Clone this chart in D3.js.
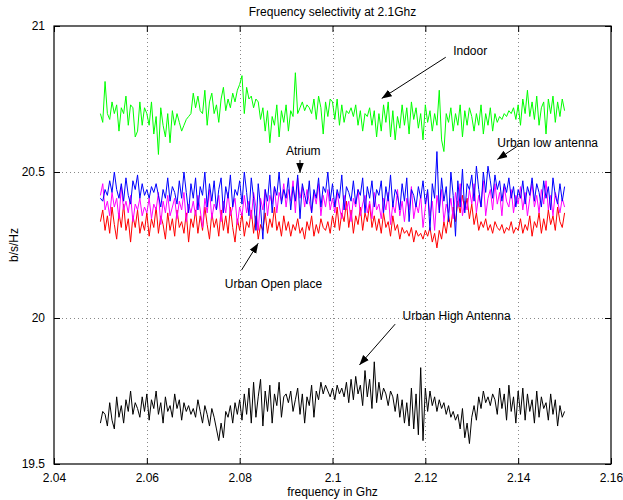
<!DOCTYPE html>
<html>
<head>
<meta charset="utf-8">
<script src="https://cdn.jsdelivr.net/npm/d3@7"></script>
<style>
  body { margin: 0; background: #fff; }
  text { font-family: "Liberation Sans", Arial, sans-serif; fill: #000; }
</style>
</head>
<body>
<div class="chart"></div>
<script>
// Frequency selectivity at 2.1Ghz - five measured environments

// frequency grid (Ghz), 2.05 .. 2.15
var freqs = d3.range(0, 201).map(i => 2.05 + i * 0.0005);

var indoor = [
  20.70, 20.67, 20.81, 20.70, 20.68, 20.74, 20.70, 20.73, 20.64, 20.72, 20.70, 20.76, 20.66, 20.73, 20.72, 20.62, 20.64, 20.74, 20.66, 20.72,
  20.70, 20.66, 20.74, 20.63, 20.69, 20.56, 20.72, 20.66, 20.62, 20.70, 20.60, 20.71, 20.66, 20.70, 20.67, 20.64, 20.66, 20.68, 20.69, 20.70,
  20.77, 20.72, 20.76, 20.71, 20.70, 20.78, 20.66, 20.74, 20.77, 20.70, 20.73, 20.67, 20.75, 20.79, 20.71, 20.75, 20.72, 20.77, 20.74, 20.78,
  20.80, 20.83, 20.70, 20.79, 20.75, 20.76, 20.72, 20.75, 20.74, 20.68, 20.72, 20.64, 20.71, 20.60, 20.69, 20.66, 20.73, 20.62, 20.71, 20.67,
  20.73, 20.64, 20.71, 20.69, 20.84, 20.70, 20.72, 20.74, 20.71, 20.73, 20.72, 20.70, 20.75, 20.68, 20.76, 20.72, 20.63, 20.74, 20.69, 20.75,
  20.74, 20.68, 20.75, 20.66, 20.73, 20.67, 20.71, 20.70, 20.72, 20.69, 20.73, 20.66, 20.71, 20.64, 20.70, 20.69, 20.72, 20.66, 20.71, 20.62,
  20.70, 20.64, 20.73, 20.67, 20.74, 20.62, 20.71, 20.61, 20.69, 20.65, 20.73, 20.66, 20.72, 20.63, 20.74, 20.68, 20.72, 20.65, 20.70, 20.61,
  20.73, 20.67, 20.71, 20.64, 20.70, 20.66, 20.78, 20.61, 20.57, 20.70, 20.67, 20.72, 20.64, 20.70, 20.66, 20.73, 20.62, 20.71, 20.66, 20.72,
  20.69, 20.64, 20.70, 20.66, 20.73, 20.63, 20.70, 20.66, 20.72, 20.64, 20.70, 20.67, 20.69, 20.68, 20.70, 20.69, 20.71, 20.70, 20.72, 20.68,
  20.73, 20.66, 20.75, 20.70, 20.78, 20.69, 20.74, 20.68, 20.76, 20.66, 20.72, 20.74, 20.63, 20.75, 20.70, 20.76, 20.67, 20.74, 20.69, 20.75,
  20.71
];

var urbanOpen = [
  20.33, 20.37, 20.30, 20.35, 20.29, 20.38, 20.32, 20.27, 20.36, 20.31, 20.39, 20.30, 20.34, 20.26, 20.35, 20.31, 20.37, 20.29, 20.33, 20.30,
  20.36, 20.28, 20.34, 20.31, 20.38, 20.29, 20.35, 20.32, 20.27, 20.36, 20.30, 20.34, 20.28, 20.37, 20.31, 20.33, 20.29, 20.36, 20.26, 20.34,
  20.31, 20.37, 20.29, 20.35, 20.30, 20.38, 20.32, 20.27, 20.36, 20.31, 20.34, 20.28, 20.37, 20.30, 20.35, 20.29, 20.38, 20.31, 20.26, 20.34,
  20.30, 20.36, 20.28, 20.33, 20.31, 20.37, 20.29, 20.35, 20.27, 20.32, 20.30, 20.36, 20.29, 20.34, 20.31, 20.38, 20.30, 20.33, 20.28, 20.35,
  20.30, 20.33, 20.28, 20.32, 20.30, 20.34, 20.29, 20.31, 20.27, 20.33, 20.30, 20.35, 20.28, 20.32, 20.29, 20.34, 20.31, 20.30, 20.33, 20.29,
  20.35, 20.31, 20.38, 20.30, 20.36, 20.33, 20.40, 20.31, 20.37, 20.29, 20.35, 20.32, 20.38, 20.30, 20.36, 20.33, 20.39, 20.31, 20.35, 20.30,
  20.34, 20.29, 20.36, 20.31, 20.33, 20.28, 20.35, 20.30, 20.32, 20.27, 20.31, 20.29, 20.30, 20.28, 20.31, 20.26, 20.30, 20.28, 20.29, 20.27,
  20.30, 20.28, 20.31, 20.26, 20.29, 20.24, 20.30, 20.27, 20.33, 20.29, 20.35, 20.31, 20.38, 20.33, 20.40, 20.36, 20.42, 20.37, 20.41, 20.34,
  20.39, 20.32, 20.36, 20.30, 20.33, 20.31, 20.34, 20.30, 20.32, 20.29, 20.33, 20.31, 20.30, 20.32, 20.29, 20.31, 20.30, 20.33, 20.29, 20.31,
  20.30, 20.34, 20.29, 20.32, 20.30, 20.35, 20.28, 20.33, 20.31, 20.36, 20.29, 20.34, 20.30, 20.37, 20.32, 20.35, 20.30, 20.38, 20.33, 20.31,
  20.36
];

var atrium = [
  20.42, 20.46, 20.37, 20.40, 20.35, 20.43, 20.38, 20.41, 20.34, 20.45, 20.37, 20.40, 20.36, 20.42, 20.33, 20.39, 20.37, 20.41, 20.35, 20.38,
  20.36, 20.41, 20.34, 20.39, 20.37, 20.43, 20.32, 20.40, 20.36, 20.42, 20.35, 20.38, 20.41, 20.34, 20.40, 20.37, 20.43, 20.33, 20.39, 20.36,
  20.40, 20.35, 20.42, 20.37, 20.31, 20.41, 20.36, 20.44, 20.34, 20.39, 20.37, 20.42, 20.33, 20.40, 20.36, 20.43, 20.35, 20.38, 20.41, 20.32,
  20.38, 20.35, 20.42, 20.36, 20.40, 20.34, 20.43, 20.38, 20.30, 20.41, 20.37, 20.44, 20.35, 20.42, 20.39, 20.45, 20.36, 20.43, 20.40, 20.46,
  20.38, 20.44, 20.40, 20.47, 20.36, 20.48, 20.41, 20.45, 20.38, 20.44, 20.40, 20.36, 20.43, 20.39, 20.46, 20.35, 20.42, 20.38, 20.44, 20.37,
  20.41, 20.36, 20.43, 20.38, 20.34, 20.42, 20.37, 20.40, 20.33, 20.41, 20.38, 20.44, 20.35, 20.39, 20.42, 20.36, 20.40, 20.34, 20.43, 20.37,
  20.39, 20.34, 20.41, 20.37, 20.43, 20.32, 20.39, 20.36, 20.44, 20.35, 20.40, 20.33, 20.41, 20.37, 20.45, 20.34, 20.39, 20.36, 20.42, 20.31,
  20.38, 20.43, 20.35, 20.40, 20.30, 20.42, 20.37, 20.44, 20.33, 20.39, 20.36, 20.41, 20.34, 20.43, 20.38, 20.46, 20.35, 20.40, 20.37, 20.44,
  20.39, 20.46, 20.36, 20.42, 20.38, 20.47, 20.35, 20.41, 20.44, 20.37, 20.46, 20.39, 20.43, 20.35, 20.45, 20.40, 20.38, 20.44, 20.36, 20.42,
  20.39, 20.45, 20.37, 20.43, 20.35, 20.41, 20.46, 20.38, 20.42, 20.36, 20.44, 20.39, 20.47, 20.37, 20.42, 20.35, 20.43, 20.40, 20.36, 20.41,
  20.38
];

var urbanLow = [
  20.41, 20.40, 20.44, 20.42, 20.47, 20.43, 20.50, 20.44, 20.41, 20.46, 20.40, 20.48, 20.42, 20.39, 20.47, 20.44, 20.49, 20.41, 20.46, 20.42,
  20.44, 20.41, 20.45, 20.43, 20.46, 20.42, 20.38, 20.44, 20.41, 20.48, 20.40, 20.45, 20.43, 20.39, 20.47, 20.41, 20.50, 20.43, 20.36, 20.46,
  20.41, 20.48, 20.37, 20.45, 20.42, 20.50, 20.38, 20.46, 20.40, 20.47, 20.37, 20.44, 20.48, 20.36, 20.45, 20.41, 20.49, 20.38, 20.44, 20.42,
  20.47, 20.39, 20.50, 20.43, 20.35, 20.48, 20.41, 20.30, 20.46, 20.38, 20.27, 20.44, 20.40, 20.49, 20.36, 20.45, 20.42, 20.50, 20.39, 20.44,
  20.41, 20.48, 20.37, 20.45, 20.40, 20.49, 20.34, 20.46, 20.42, 20.39, 20.47, 20.36, 20.44, 20.41, 20.48, 20.38, 20.45, 20.43, 20.50, 20.40,
  20.46, 20.38, 20.44, 20.41, 20.49, 20.37, 20.45, 20.43, 20.40, 20.47, 20.39, 20.44, 20.42, 20.48, 20.36, 20.45, 20.41, 20.47, 20.38, 20.44,
  20.42, 20.47, 20.36, 20.45, 20.40, 20.49, 20.38, 20.44, 20.42, 20.37, 20.46, 20.40, 20.48, 20.33, 20.44, 20.42, 20.38, 20.45, 20.41, 20.47,
  20.39, 20.44, 20.30, 20.46, 20.41, 20.57, 20.36, 20.48, 20.40, 20.45, 20.33, 20.50, 20.42, 20.28, 20.47, 20.38, 20.51, 20.36, 20.46, 20.44,
  20.49, 20.40, 20.52, 20.44, 20.38, 20.50, 20.43, 20.52, 20.47, 20.41, 20.49, 20.44, 20.47, 20.40, 20.46, 20.43, 20.48, 20.41, 20.45, 20.38,
  20.44, 20.41, 20.47, 20.39, 20.45, 20.42, 20.48, 20.40, 20.46, 20.43, 20.38, 20.47, 20.41, 20.45, 20.37, 20.48, 20.42, 20.39, 20.46, 20.40,
  20.45
];

var urbanHigh = [
  19.64, 19.68, 19.67, 19.63, 19.71, 19.65, 19.62, 19.73, 19.66, 19.70, 19.64, 19.72, 19.68, 19.75, 19.67, 19.71, 19.69, 19.66, 19.73, 19.68,
  19.74, 19.65, 19.72, 19.69, 19.75, 19.67, 19.71, 19.64, 19.73, 19.68, 19.70, 19.66, 19.74, 19.69, 19.72, 19.65, 19.71, 19.68, 19.70, 19.67,
  19.69, 19.66, 19.72, 19.68, 19.64, 19.70, 19.67, 19.63, 19.69, 19.66, 19.62, 19.58, 19.64, 19.59, 19.68, 19.66, 19.70, 19.64, 19.71, 19.67,
  19.72, 19.65, 19.74, 19.67, 19.76, 19.64, 19.78, 19.66, 19.73, 19.79, 19.63, 19.75, 19.68, 19.77, 19.64, 19.74, 19.70, 19.78, 19.66, 19.73,
  19.74, 19.71, 19.75, 19.68, 19.72, 19.76, 19.67, 19.74, 19.64, 19.73, 19.70, 19.77, 19.66, 19.75, 19.72, 19.78, 19.74, 19.77, 19.75, 19.73,
  19.76, 19.72, 19.77, 19.74, 19.76, 19.73, 19.78, 19.71, 19.79, 19.72, 19.80, 19.74, 19.77, 19.70, 19.82, 19.73, 19.79, 19.69, 19.85, 19.71,
  19.78, 19.72, 19.76, 19.74, 19.70, 19.75, 19.73, 19.68, 19.74, 19.66, 19.72, 19.64, 19.71, 19.63, 19.76, 19.62, 19.74, 19.60, 19.83, 19.58,
  19.76, 19.68, 19.75, 19.70, 19.73, 19.68, 19.72, 19.69, 19.71, 19.67, 19.70, 19.66, 19.68, 19.65, 19.67, 19.62, 19.69, 19.59, 19.64, 19.57,
  19.66, 19.70, 19.65, 19.73, 19.69, 19.75, 19.71, 19.73, 19.70, 19.74, 19.72, 19.67, 19.76, 19.69, 19.74, 19.65, 19.77, 19.68, 19.73, 19.64,
  19.75, 19.67, 19.76, 19.65, 19.74, 19.68, 19.72, 19.64, 19.75, 19.66, 19.73, 19.69, 19.71, 19.65, 19.74, 19.67, 19.72, 19.63, 19.70, 19.66,
  19.68
];

var xTicks = [2.04, 2.06, 2.08, 2.1, 2.12, 2.14, 2.16];
var yTicks = [19.5, 20, 20.5, 21];

// draw order as in the original plot
var series = [
  { name: "Indoor", values: indoor, color: "#00ff00" },
  { name: "Urban Open place", values: urbanOpen, color: "#ff0000" },
  { name: "Atrium", values: atrium, color: "#ff00ff" },
  { name: "Urban low antenna", values: urbanLow, color: "#0000ff" },
  { name: "Urban High Antenna", values: urbanHigh, color: "#000000" }
];

// text labels with arrows, in data units: text anchor, arrow tail, arrow head
var notes = [
  { text: "Indoor", tx: 2.1260, ty: 20.901, anchor: "start", x1: 2.1244, y1: 20.893, x2: 2.1106, y2: 20.752 },
  { text: "Urban low antenna", tx: 2.1355, ty: 20.586, anchor: "start", x1: 2.1397, y1: 20.587, x2: 2.1355, y2: 20.543 },
  { text: "Atrium", tx: 2.0937, ty: 20.558, anchor: "middle", x1: 2.0930, y1: 20.541, x2: 2.0930, y2: 20.497 },
  { text: "Urban Open place", tx: 2.0768, ty: 20.104, anchor: "start", x1: 2.0804, y1: 20.164, x2: 2.0840, y2: 20.256 },
  { text: "Urban High Antenna", tx: 2.1151, ty: 19.993, anchor: "start", x1: 2.1135, y1: 19.979, x2: 2.1058, y2: 19.839 }
];

var svgWidth = 623, svgHeight = 500;
var margin = { top: 26, right: 12, bottom: 36, left: 54 };
var width = svgWidth - margin.left - margin.right;
var height = svgHeight - margin.top - margin.bottom;

var svg = d3.select(".chart").append("svg")
  .attr("width", svgWidth)
  .attr("height", svgHeight)
  .style("display", "block");

svg.append("rect").attr("width", svgWidth).attr("height", svgHeight).attr("fill", "#fff");

var chartGroup = svg.append("g")
  .attr("transform", `translate(${margin.left}, ${margin.top})`);

var x = d3.scaleLinear().domain([2.04, 2.16]).range([0, width]);
var y = d3.scaleLinear().domain([19.5, 21]).range([height, 0]);

// dotted grid
var grid = chartGroup.append("g").attr("stroke", "#888").attr("stroke-width", 1)
  .attr("stroke-dasharray", "1,3");
grid.selectAll(".gx").data(xTicks.slice(1, -1)).enter().append("line")
  .attr("x1", d => Math.round(x(d)) + 0.5).attr("x2", d => Math.round(x(d)) + 0.5)
  .attr("y1", 0).attr("y2", height);
grid.selectAll(".gy").data(yTicks.slice(1, -1)).enter().append("line")
  .attr("y1", d => Math.round(y(d)) + 0.5).attr("y2", d => Math.round(y(d)) + 0.5)
  .attr("x1", 0).attr("x2", width);

// series
var line = d3.line()
  .x((d, i) => x(freqs[i]))
  .y(d => y(d));

chartGroup.append("g").selectAll("path")
  .data(series)
  .enter()
  .append("path")
  .attr("d", d => line(d.values))
  .attr("fill", "none")
  .attr("stroke", d => d.color)
  .attr("stroke-width", 1)
  .attr("stroke-linejoin", "round");

// axes, MATLAB style: inward ticks on all four sides
var bottomAxis = d3.axisBottom(x).tickValues(xTicks).tickSizeInner(-6).tickSizeOuter(0)
  .tickFormat(d3.format("~g")).tickPadding(9);
var leftAxis = d3.axisLeft(y).tickValues(yTicks).tickSizeInner(-6).tickSizeOuter(0)
  .tickFormat(d3.format("~g")).tickPadding(9);
var topAxis = d3.axisTop(x).tickValues(xTicks).tickSizeInner(-6).tickSizeOuter(0).tickFormat("");
var rightAxis = d3.axisRight(y).tickValues(yTicks).tickSizeInner(-6).tickSizeOuter(0).tickFormat("");

function styleAxis(g) {
  g.select(".domain").remove();
  g.selectAll("line").attr("stroke", "#000");
  g.selectAll("text").style("font-size", "12px").attr("fill", "#000")
    .style("font-family", "'Liberation Sans', Arial, sans-serif");
}

chartGroup.append("g").attr("transform", `translate(0, ${height})`).call(bottomAxis).call(styleAxis);
chartGroup.append("g").call(leftAxis).call(styleAxis);
chartGroup.append("g").call(topAxis).call(styleAxis);
chartGroup.append("g").attr("transform", `translate(${width}, 0)`).call(rightAxis).call(styleAxis);

chartGroup.append("rect")
  .attr("x", 0).attr("y", 0).attr("width", width).attr("height", height)
  .attr("fill", "none").attr("stroke", "#000").attr("stroke-width", 1.2);

// annotations
var defs = svg.append("defs");
defs.append("marker")
  .attr("id", "head")
  .attr("viewBox", "0 0 10 10")
  .attr("refX", 10).attr("refY", 5)
  .attr("markerWidth", 10).attr("markerHeight", 10)
  .attr("markerUnits", "userSpaceOnUse")
  .attr("orient", "auto")
  .append("path")
  .attr("d", "M0,1.2 L10,5 L0,8.8 Z")
  .attr("fill", "#000");

var noteGroup = chartGroup.append("g");
noteGroup.selectAll("line").data(notes).enter().append("line")
  .attr("x1", d => x(d.x1)).attr("y1", d => y(d.y1))
  .attr("x2", d => x(d.x2)).attr("y2", d => y(d.y2))
  .attr("stroke", "#000").attr("stroke-width", 1)
  .attr("marker-end", "url(#head)");
noteGroup.selectAll("text").data(notes).enter().append("text")
  .attr("x", d => x(d.tx)).attr("y", d => y(d.ty))
  .attr("text-anchor", d => d.anchor)
  .style("font-size", "12px")
  .text(d => d.text);

// titles
svg.append("text")
  .attr("x", margin.left + width / 2).attr("y", 16)
  .attr("text-anchor", "middle").style("font-size", "12px")
  .text("Frequency selectivity at 2.1Ghz");

svg.append("text")
  .attr("x", margin.left + width / 2).attr("y", 496)
  .attr("text-anchor", "middle").style("font-size", "12px")
  .text("frequency in Ghz");

svg.append("text")
  .attr("transform", `translate(18, ${margin.top + height / 2}) rotate(-90)`)
  .attr("text-anchor", "middle").style("font-size", "12px")
  .text("b/s/Hz");
</script>
</body>
</html>
